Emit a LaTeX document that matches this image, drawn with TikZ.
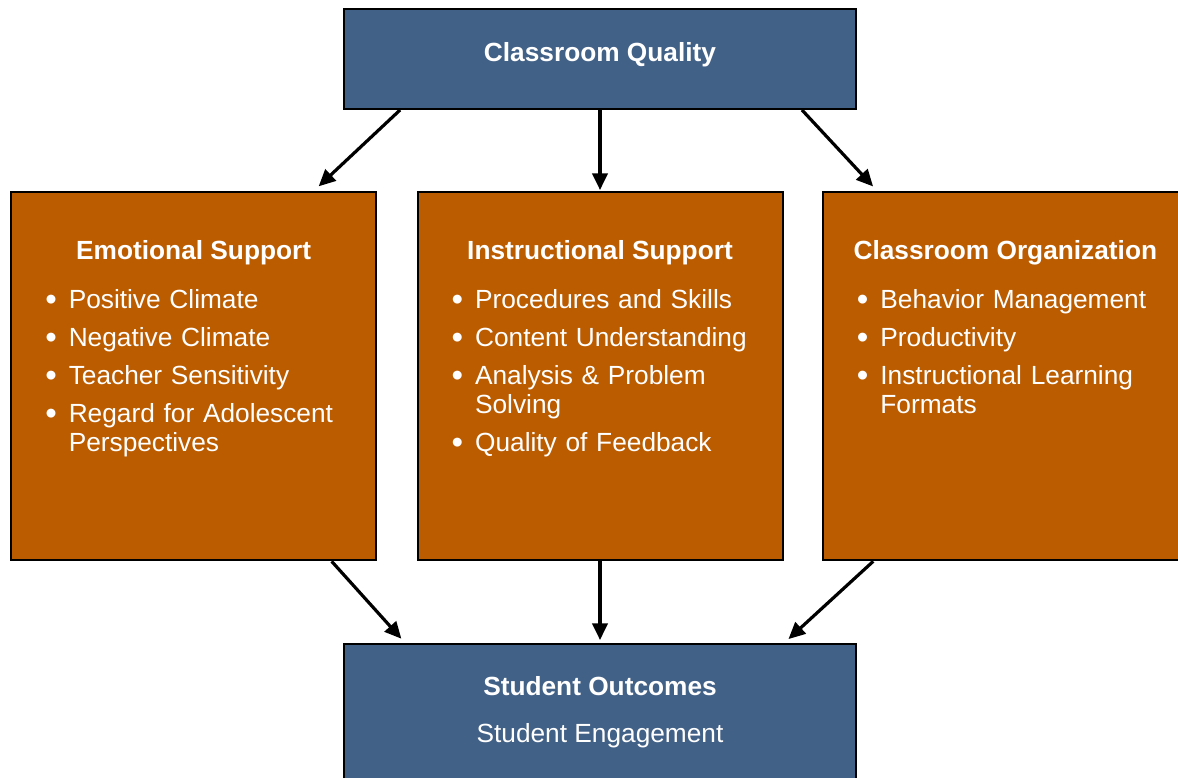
\documentclass[tikz,border=0pt]{standalone}
\usepackage{fontspec}
\setmainfont{Liberation Sans}
\usepackage{enumitem}
\usepackage{tikz}
\usetikzlibrary{arrows.meta,positioning,calc}
\definecolor{QualBlue}{HTML}{426187}
\definecolor{DomainOrange}{HTML}{BB5C00}
\setlist[itemize]{label={\raisebox{-1.5pt}{\scalebox{1.25}{\textbullet}}},leftmargin=17.25pt,labelsep=9pt,topsep=0pt,partopsep=0pt,parsep=0pt,itemsep=6.75pt}

\begin{document}
\begin{tikzpicture}[
  txt/.style={font=\fontsize{19.7}{21.75}\selectfont,text=white,inner sep=0pt},
  head/.style={txt,font=\fontsize{19.7}{21.75}\selectfont\bfseries},
  lst/.style={txt,text width=240pt,align=left,anchor=north west},
  bluebox/.style={draw,line width=1.5pt,fill=QualBlue,minimum width=384pt},
  dombox/.style={draw,line width=1.5pt,fill=DomainOrange,minimum width=273.75pt,minimum height=276pt},
  arr/.style={-{Triangle[length=12.5pt,width=11.5pt]},line width=2.4pt}
]
\useasboundingbox (0,0) rectangle (883.5pt,-583.5pt);
\node[bluebox,head,text height=39.5pt,text depth=35.5pt] (CQ) at (450pt,-44.25pt) {Classroom Quality};
\node[dombox,below=61pt of CQ] (IS) {};
\node[dombox,left=29.5pt of IS] (ES) {};
\node[dombox,right=28.75pt of IS] (CO) {};
\node[bluebox,minimum height=150pt,below=61pt of IS] (SO) {};
% the three domains
\node[head,below=36.5pt of ES.north] (ESt) {Emotional Support};
\node[lst] (ESl) at ($(ES.north west)+(26.5pt,-65.8pt)$) {\begin{itemize}
  \item Positive Climate
  \item Negative Climate
  \item Teacher Sensitivity
  \item Regard for Adolescent Perspectives
\end{itemize}};
\node[head,below=36.5pt of IS.north] (ISt) {Instructional Support};
\node[lst] (ISl) at ($(IS.north west)+(26.5pt,-65.8pt)$) {\begin{itemize}
  \item Procedures and Skills
  \item Content Understanding
  \item Analysis \& Problem Solving
  \item Quality of Feedback
\end{itemize}};
\node[head,below=36.5pt of CO.north] (COt) {Classroom Organization};
\node[lst] (COl) at ($(CO.north west)+(26.5pt,-65.8pt)$) {\begin{itemize}
  \item Behavior Management
  \item Productivity
  \item Instructional Learning Formats
\end{itemize}};
\node[head,below=25.3pt of SO.north] (SOt) {Student Outcomes};
\node[txt,below=60.5pt of SO.north] (SOe) {Student Engagement};
% arrows
\draw[arr,shorten >=5.5pt] ($(CQ.south west)!0.111!(CQ.south east)$) -- ($(ES.north west)!0.826!(ES.north east)$);
\draw[arr,shorten >=1pt] (CQ) -- (IS);
\draw[arr,shorten >=5pt] ($(CQ.south west)!0.893!(CQ.south east)$) -- ($(CO.north west)!0.152!(CO.north east)$);
\draw[arr,shorten >=4pt] ($(ES.south west)!0.876!(ES.south east)$) -- ($(SO.north west)!0.1205!(SO.north east)$);
\draw[arr,shorten >=2pt] (IS) -- (SO);
\draw[arr,shorten >=4pt] ($(CO.south west)!0.14!(CO.south east)$) -- ($(SO.north west)!0.859!(SO.north east)$);
\end{tikzpicture}
\end{document}
